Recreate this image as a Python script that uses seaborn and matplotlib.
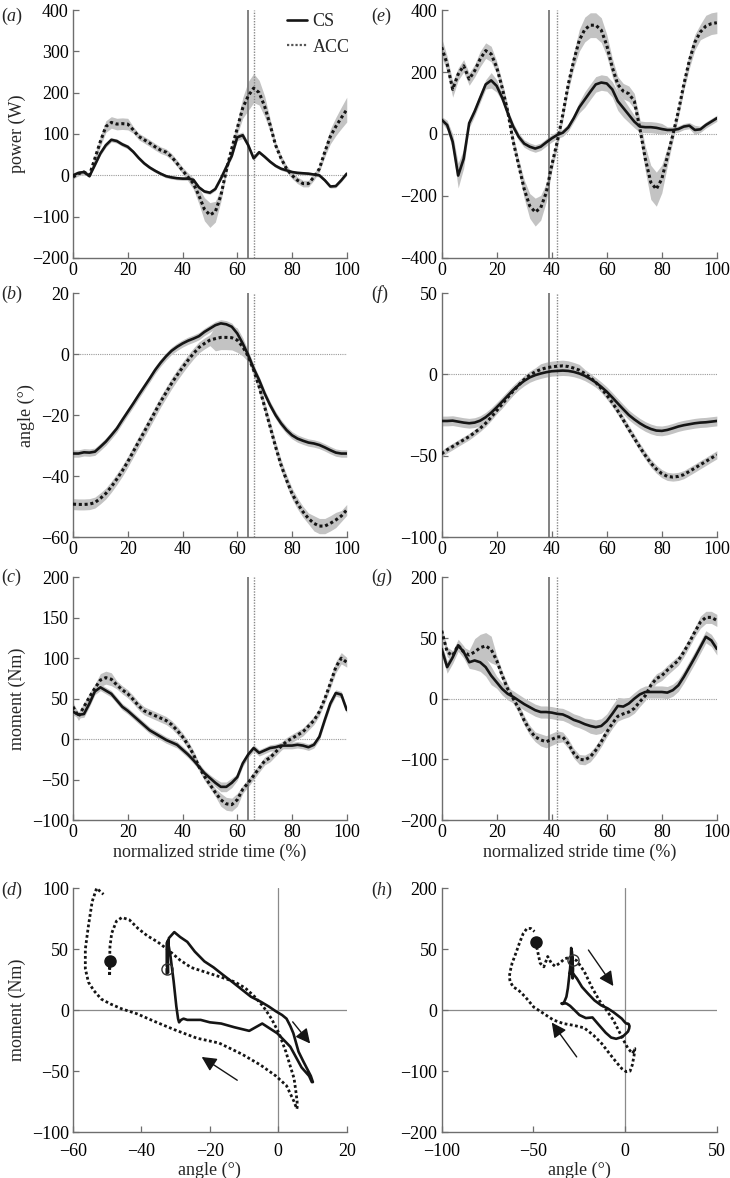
import numpy as np
import matplotlib
matplotlib.use("Agg")
import matplotlib.pyplot as plt
import seaborn as sns
from matplotlib.lines import Line2D

sns.set_style("ticks")
plt.rcParams['font.family'] = ['Liberation Serif', 'DejaVu Serif']
plt.rcParams['mathtext.fontset'] = 'custom'
plt.rcParams['mathtext.rm'] = 'Liberation Serif'
plt.rcParams['mathtext.it'] = 'Liberation Serif:italic'

# ---------------- data (normalized stride time, 2 % steps) ----------------
stride = list(range(0, 101, 2))

# (a) power, left
pow_cs_L = [0, 6, 8, -2, 25, 53, 73, 86, 83, 75, 69, 57, 42, 29, 19, 11, 4, -2, -5, -7,
            -8, -8, -11, -29, -39, -42, -33, -8, 20, 47, 92, 97, 73, 41, 56, 45, 33, 23, 16, 12,
            8, 6, 5, 4, 2, 0, -12, -27, -26, -12, 4]
pow_acc_L = [-4, 4, 8, 0, 41, 82, 118, 128, 124, 125, 124, 110, 94, 86, 78, 69, 61, 56, 45, 29,
             12, -4, -20, -49, -82, -96, -88, -49, 12, 65, 114, 163, 192, 211, 200, 167, 122, 73, 41, 16,
             0, -12, -20, -20, -4, 16, 57, 94, 118, 139, 159]
pow_cs_L_sd = [3] * 5 + [5] * 6 + [4] * 18 + [6, 8, 8, 6] + [4] * 18
pow_acc_L_sd = [5, 5, 5, 5, 8, 12, 14, 14, 14, 14, 14, 8, 8, 8, 8, 8, 8, 8, 8, 8,
                8, 10, 14, 20, 28, 30, 25, 15, 10, 10, 15, 25, 35, 35, 30, 25, 15, 8, 8, 8,
                8, 8, 8, 8, 8, 8, 12, 18, 22, 26, 30]

# (e) power, right
pow_cs_R = [46, 29, -25, -134, -80, 35, 73, 117, 160, 173, 155, 117, 68, 24, -9, -31, -41, -47, -41, -27,
            -14, -3, 4, 21, 51, 86, 111, 136, 160, 166, 163, 144, 106, 84, 62, 40, 24, 22, 22, 20,
            16, 13, 13, 16, 24, 27, 13, 15, 29, 40, 51]
pow_acc_R = [280, 226, 144, 193, 220, 177, 204, 242, 269, 258, 215, 149, 73, -25, -101, -178, -232, -252, -238, -189,
             -101, -25, 62, 160, 237, 302, 337, 351, 351, 335, 286, 215, 160, 138, 130, 106, 19, -80, -156, -178,
             -145, -74, -3, 73, 160, 237, 296, 329, 348, 356, 359]
pow_cs_R_sd = [10, 15, 25, 40, 30, 15, 15, 15, 15, 25, 20, 12, 12, 12, 12, 12, 12, 12, 12, 12,
               12, 12, 12, 12, 12, 18, 25, 25, 25, 25, 25, 25, 30, 30, 25, 20, 18, 18, 18, 18,
               18, 10, 10, 10, 10, 10, 15, 10, 10, 10, 10]
pow_acc_R_sd = [30, 25, 25, 20, 20, 20, 20, 25, 25, 25, 20, 20, 20, 20, 20, 30, 40, 45, 40, 30,
                20, 20, 20, 20, 25, 35, 40, 40, 40, 40, 35, 30, 25, 25, 25, 25, 30, 40, 55, 55,
                45, 30, 20, 20, 20, 25, 25, 25, 35, 35, 35]

# (b) angle, left
ang_cs_L = [-32.6, -32.6, -32.2, -32.3, -32.0, -30.4, -28.7, -26.6, -24.4, -21.6, -18.9, -16.2, -13.4, -10.7, -8.0, -5.2, -2.8, -0.7, 1.1, 2.4,
            3.5, 4.4, 5.1, 5.9, 7.3, 8.4, 9.5, 10.1, 9.8, 9.0, 6.8, 3.5, -0.3, -4.7, -8.5, -12.9, -16.7, -20.0, -22.7, -24.9,
            -26.6, -27.7, -28.4, -29.0, -29.3, -29.8, -30.6, -31.5, -32.3, -32.6, -32.6]
ang_acc_L = [-49.2, -49.3, -49.3, -49.2, -48.7, -47.3, -45.7, -43.5, -41.0, -38.3, -35.3, -32.0, -28.7, -25.5, -22.2, -18.9, -15.6, -12.6, -9.6, -6.9,
             -4.4, -2.0, 0.2, 2.2, 3.5, 4.6, 5.1, 5.5, 5.5, 5.4, 4.6, 2.4, -0.7, -5.2, -10.7, -17.3, -23.8, -30.4, -36.4, -41.3,
             -45.7, -49.0, -51.7, -53.9, -55.5, -56.4, -56.4, -55.5, -54.4, -53.1, -51.1]
ang_cs_L_sd = [1.2] * 51
ang_acc_L_sd = [1.8] * 26 + [4, 4, 4, 4, 4, 3] + [1.8] * 12 + [2.5] * 5 + [1.8] * 2

# (f) angle, right
ang_cs_R = [-28.6, -28.6, -28.4, -29.0, -29.6, -30.0, -29.6, -28.4, -26.3, -23.5, -20.2, -16.7, -13.1, -9.6, -6.5, -3.9, -1.8, -0.4, 0.6, 1.4,
            2.0, 2.2, 2.4, 2.2, 1.6, 0.6, -0.8, -2.7, -4.9, -7.6, -10.6, -14.1, -17.8, -21.4, -24.9, -27.6, -30.0, -32.0, -33.5, -34.5,
            -34.7, -34.1, -33.1, -32.0, -31.2, -30.6, -30.0, -29.6, -29.4, -29.0, -28.6]
ang_acc_R = [-48.8, -46.3, -44.3, -42.2, -40.2, -38.2, -35.7, -33.1, -30.0, -26.3, -22.2, -18.2, -14.1, -10.2, -6.5, -3.1, -0.4, 1.6, 3.1, 4.1,
             4.7, 5.1, 5.3, 4.9, 3.9, 2.7, 0.6, -1.8, -4.9, -8.6, -12.7, -17.3, -22.4, -28.0, -33.7, -39.2, -44.7, -49.8, -54.5, -58.2,
             -61.0, -62.7, -63.1, -62.7, -61.6, -59.6, -57.6, -55.5, -53.5, -51.4, -49.4]
ang_cs_R_sd = [3.0] * 51
ang_acc_R_sd = [2.0] * 11 + [2.5] * 7 + [3.5] * 8 + [2.5] * 25

# (c) moment, left
mom_cs_L = [34, 30, 31, 44, 59, 64, 60, 56, 48, 40, 35, 29, 23, 17, 11, 7, 3, -1, -4, -7,
            -13, -19, -26, -34, -42, -48, -54, -59, -59, -54, -47, -30, -19, -11, -17, -14, -11, -10, -8, -8,
            -8, -7, -8, -10, -7, 3, 24, 44, 57, 55, 36]
mom_acc_L = [40, 28, 40, 52, 63, 73, 76, 74, 67, 61, 56, 49, 41, 35, 32, 29, 26, 23, 18, 11,
             3, -7, -19, -34, -46, -56, -66, -75, -80, -81, -75, -62, -54, -45, -36, -27, -23, -16, -9, -3,
             1, 5, 9, 16, 23, 34, 50, 69, 89, 100, 95]
mom_cs_L_sd = [4] * 26 + [5, 6, 6, 6] + [4] * 21
mom_acc_L_sd = [5] * 5 + [8, 8, 8] + [5] * 19 + [8, 8, 8, 8] + [5] * 16 + [6, 7, 7, 6]

# (g) moment, right
mom_cs_R = [82, 52, 68, 88, 77, 60, 63, 60, 52, 38, 27, 16, 8, 3, -3, -9, -14, -19, -22, -22,
            -23, -25, -26, -30, -35, -38, -42, -45, -47, -45, -37, -25, -12, -13, -8, 0, 7, 11, 11, 11,
            11, 10, 14, 22, 36, 52, 68, 85, 102, 96, 82]
mom_acc_R = [112, 77, 71, 88, 77, 72, 77, 84, 87, 81, 63, 38, 16, 0, -16, -36, -52, -63, -68, -71,
             -67, -63, -63, -74, -90, -100, -101, -96, -85, -71, -55, -41, -29, -25, -22, -16, -5, 5, 22, 33,
             38, 47, 55, 63, 77, 93, 110, 126, 134, 134, 129]
mom_cs_R_sd = [10] * 6 + [15, 15, 15, 15] + [10] * 17 + [12, 12, 12, 12, 14, 14, 14] + [10] * 17
mom_acc_R_sd = [8] * 6 + [22, 22, 22, 22] + [8] * 8 + [10, 10, 10, 10] + [8] * 25 + [10, 10, 10, 10]

toe_off_L = (64, 66)   # CS, ACC
toe_off_R = (39, 42)

# ---------------- styling ----------------
BLACK = '#151515'
BAND = '#c3c3c3'
SPINE = '#6e6e6e'
DOT = (0, (1, 0.9))
FS = 13

fig = plt.figure(figsize=(7.30, 11.78), dpi=100)

colL, colR = 0.100, 0.605
wL, wR = 0.375, 0.377
rows = [(0.781, 0.2105), (0.5441, 0.207), (0.3039, 0.206), (0.039, 0.207)]


def style_axes(ax, xpad=3):
    sns.despine(ax=ax)
    for s in ('left', 'bottom'):
        ax.spines[s].set_color(SPINE)
        ax.spines[s].set_linewidth(1.0)
    ax.tick_params(direction='in', length=4, width=0.9, color=SPINE,
                   labelsize=FS, labelcolor='black', pad=3)
    ax.tick_params(axis='x', pad=xpad)


def time_panel(ax, cs, cs_sd, acc, acc_sd, toe, ylim, yticks, yticklabels=None):
    x = np.array(stride, dtype=float)
    cs = np.array(cs, dtype=float); acc = np.array(acc, dtype=float)
    cs_sd = np.array(cs_sd, dtype=float); acc_sd = np.array(acc_sd, dtype=float)
    ax.fill_between(x, acc - acc_sd, acc + acc_sd, color=BAND, lw=0, zorder=1)
    ax.fill_between(x, cs - cs_sd, cs + cs_sd, color=BAND, lw=0, zorder=1)
    ax.axhline(0, color='#9a9a9a', lw=0.8, ls=(0, (1, 1)), zorder=0)
    ax.axvline(toe[0], color='#777777', lw=1.3, zorder=2)
    ax.axvline(toe[1], color='#888888', lw=1.0, ls=(0, (1, 1)), zorder=2)
    sns.lineplot(x=x, y=acc, ax=ax, color=BLACK, lw=2.2, ls=DOT, zorder=3)
    sns.lineplot(x=x, y=cs, ax=ax, color=BLACK, lw=1.9, zorder=4)
    ax.set_xlim(0, 100)
    ax.set_ylim(*ylim)
    ax.set_xticks([0, 20, 40, 60, 80, 100])
    ax.set_yticks(yticks)
    if yticklabels is not None:
        ax.set_yticklabels(yticklabels)
    ax.set_xlabel('')
    ax.set_ylabel('')
    style_axes(ax)


def loop_panel(ax, ang_cs, mom_cs, ang_acc, mom_acc, xlim, ylim, xticks, yticks, arrows, yticklabels=None):
    ax.axhline(0, color='#8a8a8a', lw=0.9, zorder=0)
    ax.axvline(0, color='#8a8a8a', lw=0.9, zorder=0)
    sns.lineplot(x=ang_acc, y=mom_acc, ax=ax, sort=False, estimator=None,
                 color=BLACK, lw=2.0, ls=DOT, zorder=3)
    sns.lineplot(x=ang_cs, y=mom_cs, ax=ax, sort=False, estimator=None,
                 color=BLACK, lw=1.9, zorder=4)
    ax.plot(ang_acc[0], mom_acc[0], 'o', color=BLACK, ms=8, zorder=5)
    ax.plot(ang_cs[0], mom_cs[0], 'o', mfc='none', mec='#333333', ms=8, mew=1.0, zorder=5)
    for (x0, y0, x1, y1) in arrows:
        ax.annotate('', xy=(x1, y1), xytext=(x0, y0),
                    arrowprops=dict(arrowstyle='-|>', color=BLACK, lw=1.0,
                                    mutation_scale=22, shrinkA=0, shrinkB=0))
    ax.set_xlim(*xlim)
    ax.set_ylim(*ylim)
    ax.set_xticks(xticks)
    ax.set_yticks(yticks)
    if yticklabels is not None:
        ax.set_yticklabels(yticklabels)
    ax.set_xlabel('')
    ax.set_ylabel('')
    style_axes(ax, xpad=8)


axes = {}
for i, key in enumerate('abcd'):
    axes[key] = fig.add_axes([colL, rows[i][0], wL, rows[i][1]])
for i, key in enumerate('efgh'):
    axes[key] = fig.add_axes([colR, rows[i][0], wR, rows[i][1]])

time_panel(axes['a'], pow_cs_L, pow_cs_L_sd, pow_acc_L, pow_acc_L_sd, toe_off_L,
           (-200, 400), range(-200, 401, 100))
time_panel(axes['b'], ang_cs_L, ang_cs_L_sd, ang_acc_L, ang_acc_L_sd, toe_off_L,
           (-60, 20), range(-60, 21, 20))
time_panel(axes['c'], mom_cs_L, mom_cs_L_sd, mom_acc_L, mom_acc_L_sd, toe_off_L,
           (-100, 200), range(-100, 201, 50))
time_panel(axes['e'], pow_cs_R, pow_cs_R_sd, pow_acc_R, pow_acc_R_sd, toe_off_R,
           (-400, 400), range(-400, 401, 200))
time_panel(axes['f'], ang_cs_R, ang_cs_R_sd, ang_acc_R, ang_acc_R_sd, toe_off_R,
           (-100, 50), range(-100, 51, 50))
g_labels = ['\u2212200', '\u2212100', '0', '50', '200']
time_panel(axes['g'], mom_cs_R, mom_cs_R_sd, mom_acc_R, mom_acc_R_sd, toe_off_R,
           (-200, 200), range(-200, 201, 100), g_labels)

loop_panel(axes['d'], ang_cs_L, mom_cs_L, ang_acc_L, mom_acc_L,
           (-60, 20), (-100, 100), range(-60, 21, 20), range(-100, 101, 50),
           [(4.2, -9.6, 9.3, -27.4), (-12, -57.5, -22.4, -38.4)])
loop_panel(axes['h'], ang_cs_R, mom_cs_R, ang_acc_R, mom_acc_R,
           (-100, 50), (-200, 200), range(-100, 51, 50), range(-200, 201, 100),
           [(-20, 98.6, -6.4, 39.5), (-26.4, -76.7, -40, -20.3)], g_labels)

# axis labels
axes['a'].set_ylabel('power (W)', fontsize=FS, labelpad=4)
axes['b'].set_ylabel('angle (°)', fontsize=FS, labelpad=4)
axes['c'].set_ylabel('moment (Nm)', fontsize=FS, labelpad=4)
axes['d'].set_ylabel('moment (Nm)', fontsize=FS, labelpad=4)
axes['c'].set_xlabel('normalized stride time (%)', fontsize=FS, labelpad=2)
axes['g'].set_xlabel('normalized stride time (%)', fontsize=FS, labelpad=2)
axes['d'].set_xlabel('angle (°)', fontsize=FS, labelpad=1)
axes['h'].set_xlabel('angle (°)', fontsize=FS, labelpad=1)

# legend
handles = [Line2D([], [], color=BLACK, lw=1.9, label='CS'),
           Line2D([], [], color='#555555', lw=1.6, ls=DOT, label='ACC')]
axes['a'].legend(handles=handles, loc='upper right', bbox_to_anchor=(1.05, 1.03),
                 frameon=False, fontsize=FS, handlelength=1.1, handletextpad=0.3,
                 labelspacing=0.45, borderaxespad=0.2)

# panel letters
letter_pos = {'a': (0.002, 0.986), 'b': (0.002, 0.750), 'c': (0.002, 0.510), 'd': (0.002, 0.244),
              'e': (0.508, 0.986), 'f': (0.508, 0.750), 'g': (0.508, 0.510), 'h': (0.508, 0.244)}
for k, (px, py) in letter_pos.items():
    fig.text(px, py, r'($\mathit{%s}$)' % k, fontsize=FS, va='center', ha='left')

fig.savefig('out.png', dpi=100)
